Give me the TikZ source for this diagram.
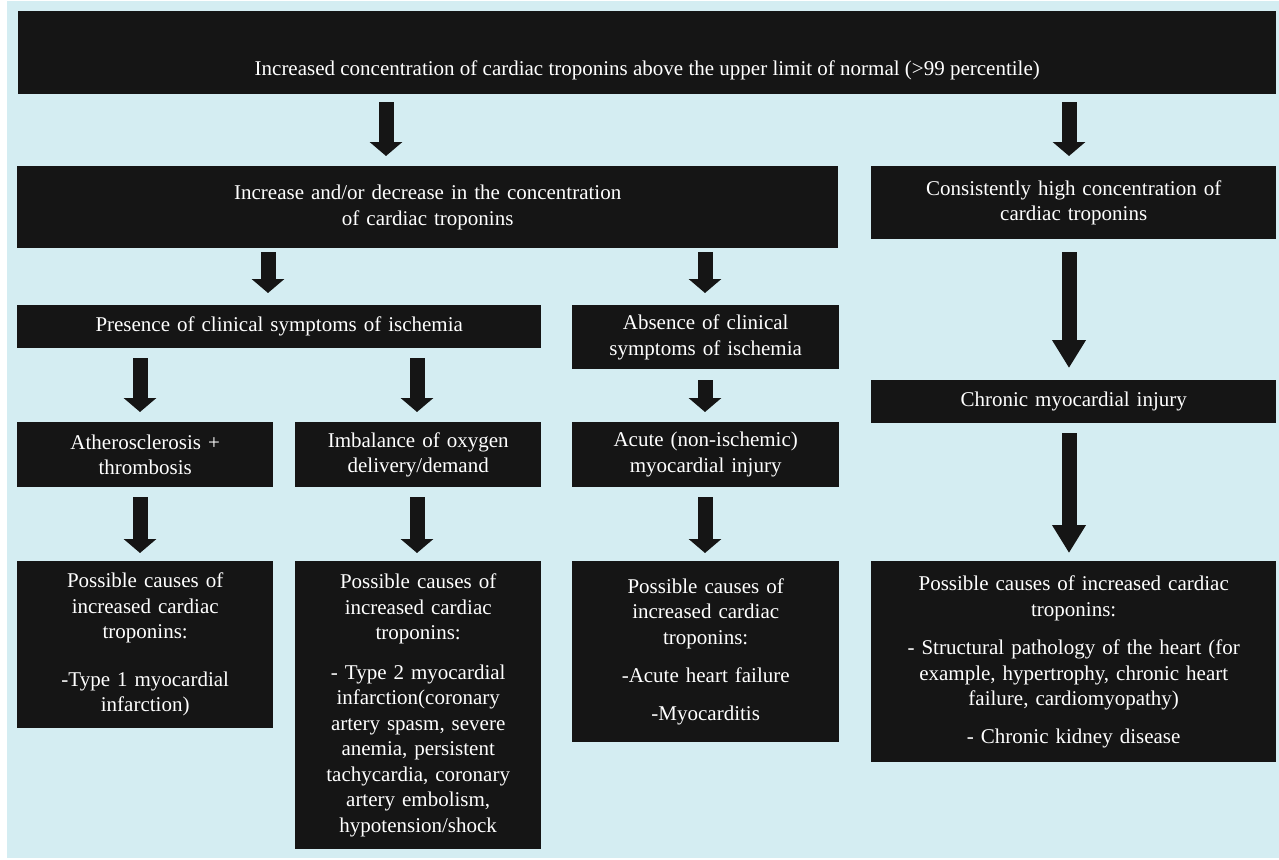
\documentclass[tikz,border=0pt]{standalone}
\usepackage{fontspec}
\setmainfont{Liberation Serif}
\usetikzlibrary{arrows.meta}

\definecolor{bgblue}{HTML}{D4EDF2}
\definecolor{boxblack}{HTML}{151515}

\tikzset{
  blk/.style={anchor=north west, fill=boxblack, text=white, inner sep=0pt,
    align=center, font=\fontsize{21}{25.5}\selectfont},
  bigarrow/.style={line width=15pt, draw=boxblack,
    -{Triangle[width=32pt,length=14pt]}, shorten <=10pt, shorten >=10pt},
  longarrow/.style={bigarrow, -{Triangle[width=32pt,length=28pt]}}
}

\begin{document}
\begin{tikzpicture}[x=1pt,y=-1pt]
% background
\fill[white] (0,0) rectangle (1279,859);
\useasboundingbox (0,0) rectangle (1279,859);
\fill[bgblue] (7,1) rectangle (1279,858);

% arrow columns
\coordinate (c0) at (386,0);
\coordinate (c1) at (140,0);
\coordinate (c2) at (417,0);
\coordinate (c3) at (705,0);
\coordinate (c4) at (1069,0);
\coordinate (c5) at (268,0);

% first row
\node[blk, minimum width=1258pt, text height=64pt, text depth=19pt] (top) at (18,11)
  {Increased concentration of cardiac troponins above the upper limit of normal (>99 percentile)};

% second row
\node[blk, text width=821pt, minimum height=82pt] (incr) at (17,166)
  {Increase and/or decrease in the concentration\\of cardiac troponins};
\node[blk, text width=405pt, minimum height=73pt] (cons) at (871,166)
  {Consistently high concentration of\\cardiac troponins};

% third row
\node[blk, text width=524pt, minimum height=43pt] (pres) at (17,305)
  {Presence of clinical symptoms of ischemia};
\node[blk, text width=267pt, minimum height=64pt] (abs) at (572,305)
  {Absence of clinical\\symptoms of ischemia};
\node[blk, text width=405pt, minimum height=43pt] (chron) at (871,380)
  {Chronic myocardial injury};

% fourth row
\node[blk, text width=256pt, minimum height=65pt] (ath) at (17,422)
  {Atherosclerosis +\\thrombosis};
\node[blk, text width=246pt, minimum height=65pt] (imb) at (295,422)
  {Imbalance of oxygen\\delivery/demand};
\node[blk, text width=267pt, minimum height=65pt] (acute) at (572,422)
  {Acute (non-ischemic)\\myocardial injury};

% possible causes
\node[blk, text width=256pt, minimum height=167pt] (pa) at (17,561)
  {Possible causes of\\increased cardiac\\troponins:\\[22pt]-Type 1 myocardial\\infarction)};
\node[blk, text width=246pt, minimum height=288pt] (pb) at (295,561)
  {Possible causes of\\increased cardiac\\troponins:\\[14pt]- Type 2 myocardial\\infarction(coronary\\artery spasm, severe\\anemia, persistent\\tachycardia, coronary\\artery embolism,\\hypotension/shock};
\node[blk, text width=267pt, minimum height=181pt] (pc) at (572,561)
  {Possible causes of\\increased cardiac\\troponins:\\[13pt]-Acute heart failure\\[12pt]-Myocarditis};
\node[blk, text width=405pt, minimum height=201pt] (pd) at (871,561)
  {Possible causes of increased cardiac\\troponins:\\[13pt]- Structural pathology of the heart (for\\example, hypertrophy, chronic heart\\failure, cardiomyopathy)\\[12pt]- Chronic kidney disease};

% arrows
\draw[bigarrow, shorten <=8pt] (top.south -| c0) -- (incr.north -| c0);
\draw[bigarrow, shorten <=8pt] (top.south -| c4) -- (cons.north -| c4);
\draw[bigarrow, shorten <=4pt, shorten >=12pt] (incr.south -| c5) -- (pres.north -| c5);
\draw[bigarrow, shorten <=4pt, shorten >=12pt] (incr.south -| c3) -- (abs.north -| c3);
\draw[bigarrow] (pres.south -| c1) -- (ath.north -| c1);
\draw[bigarrow] (pres.south -| c2) -- (imb.north -| c2);
\draw[bigarrow, shorten <=11pt] (abs.south -| c3) -- (acute.north -| c3);
\draw[bigarrow, shorten >=8pt] (ath.south -| c1) -- (pa.north -| c1);
\draw[bigarrow, shorten >=8pt] (imb.south -| c2) -- (pb.north -| c2);
\draw[bigarrow, shorten >=8pt] (acute.south -| c3) -- (pc.north -| c3);
\draw[longarrow, shorten <=13pt, shorten >=12pt] (cons.south -| c4) -- (chron.north -| c4);
\draw[longarrow, shorten >=8pt] (chron.south -| c4) -- (pd.north -| c4);
\end{tikzpicture}
\end{document}
